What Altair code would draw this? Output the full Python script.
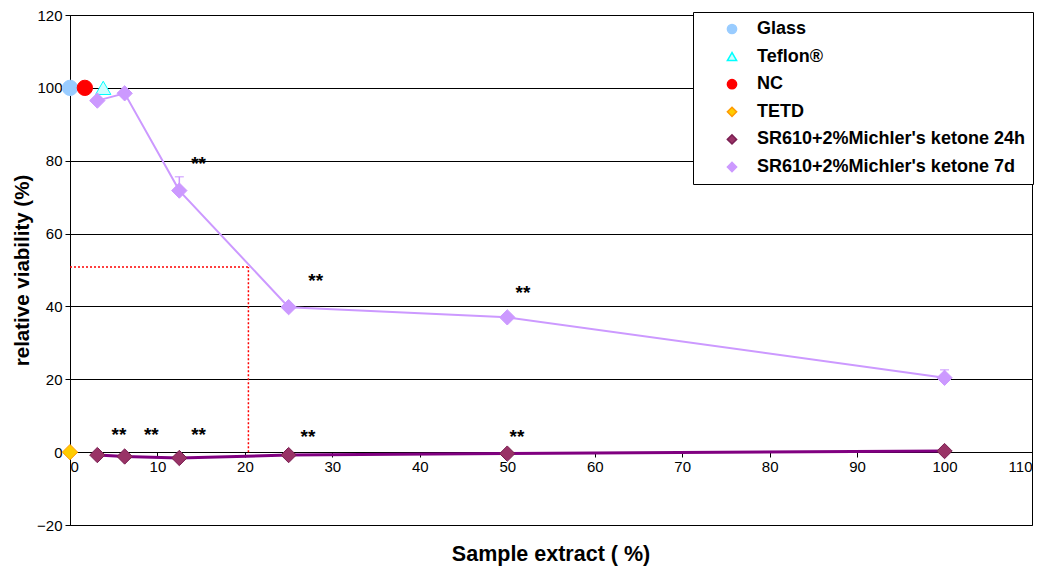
import altair as alt
import pandas as pd

# ---- data ----
conc = [3.125, 6.25, 12.5, 25, 50, 100]
viab_24h = [-0.8, -1.2, -1.6, -0.8, -0.4, 0.3]
viab_7d = [96.5, 98.5, 71.8, 39.8, 37.0, 20.4]
err_7d = [0, 0, 3.8, 0, 0, 2.2]

controls = ["Glass", "Teflon®", "NC", "TETD"]
control_x = [0.0, 3.8, 1.7, 0.0]
control_y = [100, 100, 100, 0]

series_names = ["Glass", "Teflon®", "NC", "TETD",
                "SR610+2%Michler's ketone 24h", "SR610+2%Michler's ketone 7d"]
fill_colors = ["#99CCFF", "#CCFFFF", "#FF0000", "#FFCC00", "#993366", "#CC99FF"]
stroke_colors = ["#99CCFF", "#00FFFF", "#FF0000", "#FF9900", "#7A1F52", "#CC99FF"]
shapes = ["circle", "triangle-up", "circle", "diamond", "diamond", "diamond"]

star_x = [14.7, 28.1, 51.8, 5.6, 9.3, 14.7, 27.2, 51.1]
star_y = [79.0, 47.0, 43.7, 4.8, 4.8, 4.8, 4.2, 4.2]

ic50_x = 20.4
ic50_y = 50.8

# ---- tables ----
pts = pd.DataFrame({
    "x": control_x + conc + conc,
    "y": control_y + viab_24h + viab_7d,
    "series": controls + [series_names[4]] * 6 + [series_names[5]] * 6,
})
line24 = pd.DataFrame({"x": conc, "y": viab_24h})
line7 = pd.DataFrame({"x": conc, "y": viab_7d,
                      "yerr": [v + e for v, e in zip(viab_7d, err_7d)], "e": err_7d})
err = line7[line7["e"] > 0]
stars = pd.DataFrame({"x": star_x, "y": star_y, "t": ["**"] * len(star_x)})
ic50_h = pd.DataFrame({"x": [0.0], "x2": [ic50_x], "y": [ic50_y]})
ic50_v = pd.DataFrame({"x": [ic50_x], "y": [0.0], "y2": [ic50_y]})

FONT = "Liberation Sans"

xs = alt.Scale(domain=[0, 110], nice=False, zero=False)
ys = alt.Scale(domain=[-20, 120], nice=False, zero=False)

x_axis = alt.Axis(values=list(range(0, 111, 10)), offset=-73, grid=False,
                  title=None, labelFont=FONT, labelFontSize=15, labelColor="#000",
                  domainColor="#000", tickColor="#000", tickSize=5, labelPadding=2)
y_axis = alt.Axis(values=list(range(-20, 121, 20)), grid=True, gridColor="#000",
                  gridWidth=1, title="relative viability (%)", titleFont=FONT,
                  titleFontSize=20.5, titleFontWeight="bold", titleColor="#000",
                  labelFont=FONT, labelFontSize=15, labelColor="#000",
                  domainColor="#000", tickColor="#000", tickSize=5, labelPadding=3,
                  titlePadding=4)

base_x = alt.X("x:Q", scale=xs, axis=x_axis)
base_y = alt.Y("y:Q", scale=ys, axis=y_axis)

red_h = alt.Chart(ic50_h).mark_rule(color="#FF0000", strokeDash=[2, 2], strokeWidth=1.5).encode(
    x=alt.X("x:Q", scale=xs, axis=x_axis), x2="x2:Q", y=alt.Y("y:Q", scale=ys, axis=y_axis))
red_v = alt.Chart(ic50_v).mark_rule(color="#FF0000", strokeDash=[2, 2], strokeWidth=1.5).encode(
    x=alt.X("x:Q", scale=xs, axis=x_axis), y=alt.Y("y:Q", scale=ys, axis=y_axis), y2="y2:Q")

l24 = alt.Chart(line24).mark_line(color="#800080", strokeWidth=3).encode(x=base_x, y=base_y)
l7 = alt.Chart(line7).mark_line(color="#CC99FF", strokeWidth=2).encode(x=base_x, y=base_y)

err_rule = alt.Chart(err).mark_rule(color="#CC99FF", strokeWidth=1.5).encode(
    x=base_x, y=base_y, y2="yerr:Q")
err_cap = alt.Chart(err).mark_tick(color="#CC99FF", thickness=1.5, size=9, orient="horizontal").encode(
    x=base_x, y=alt.Y("yerr:Q", scale=ys, axis=y_axis))

points = alt.Chart(pts).mark_point(filled=True, size=235, strokeWidth=1, opacity=1).encode(
    x=base_x, y=base_y,
    fill=alt.Fill("series:N", scale=alt.Scale(domain=series_names, range=fill_colors),
                  legend=alt.Legend(title=None)),
    stroke=alt.Stroke("series:N", scale=alt.Scale(domain=series_names, range=stroke_colors),
                      legend=alt.Legend(title=None)),
    shape=alt.Shape("series:N", scale=alt.Scale(domain=series_names, range=shapes),
                    legend=alt.Legend(title=None)),
)

star_txt = alt.Chart(stars).mark_text(font=FONT, fontSize=19, fontWeight="bold", color="#000",
                                      baseline="middle").encode(
    x=base_x, y=base_y, text="t:N")

chart = alt.layer(red_h, red_v, l24, l7, err_rule, err_cap, points, star_txt).properties(
    width=962, height=510,
    title=alt.TitleParams("Sample extract ( %)", orient="bottom", anchor="middle",
                          font=FONT, fontSize=21.5, fontWeight="bold", color="#000", offset=11),
    autosize=alt.AutoSizeParams(type="none"),
    padding={"left": 62, "top": 7, "right": 10, "bottom": 53},
).configure_view(stroke="#000", strokeWidth=1).configure_legend(
    orient="none", legendX=623, legendY=-3, strokeColor="#000", fillColor="#FFFFFF",
    padding=8, rowPadding=9.6, labelFont=FONT, labelFontSize=18, labelFontWeight="bold",
    labelColor="#000", labelLimit=400, symbolSize=85, labelOffset=16, symbolOffset=22,
    cornerRadius=0,
)

chart.save("out.html", embed_options={"renderer": "svg", "actions": False})
